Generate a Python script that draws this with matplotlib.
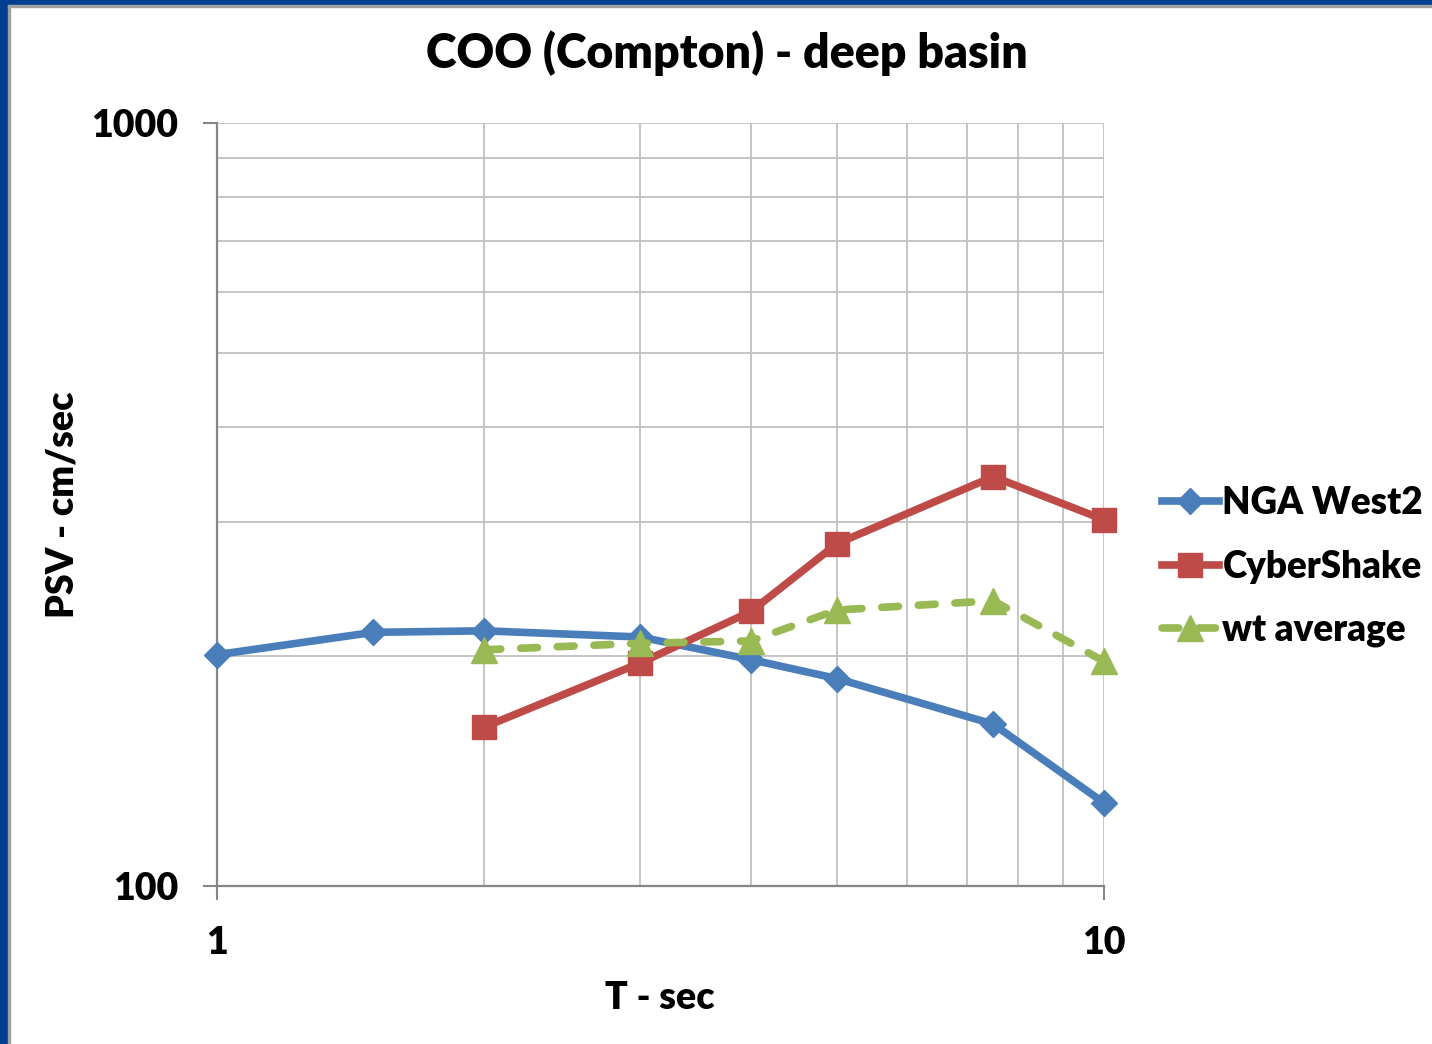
import matplotlib.pyplot as plt
from matplotlib.patches import Rectangle
from matplotlib.ticker import FixedLocator, NullFormatter, FixedFormatter

plt.rcParams['font.family'] = ['Lato', 'DejaVu Sans']
plt.rcParams['font.weight'] = 'heavy'

# periods (sec) and PSV (cm/sec)
nga_T = [1.0, 1.5, 2.0, 3.0, 4.0, 5.0, 7.5, 10.0]
nga_psv = [201, 215, 216, 212, 198, 187, 163, 128.5]

cs_T = [2.0, 3.0, 4.0, 5.0, 7.5, 10.0]
cs_psv = [161.5, 196, 229, 281, 344, 302]

wt_T = [2.0, 3.0, 4.0, 5.0, 7.5, 10.0]
wt_psv = [204, 208, 209.5, 230, 236.5, 197]

x_ticks = [1, 10]
y_ticks = [100, 1000]

BLUE = '#4A7EBB'
RED = '#BE4B48'
GREEN = '#98B954'
GRID = '#C0C0C0'
AXIS = '#868686'

W, H = 1432, 1044
fig = plt.figure(figsize=(W / 100, H / 100), dpi=100)
ax = fig.add_axes([217 / W, 1 - 886 / H, (1104 - 217) / W, (886 - 123) / H])

ax.set_xscale('log')
ax.set_yscale('log')
ax.set_xlim(1, 10)
ax.set_ylim(100, 1000)

ax.plot(nga_T, nga_psv, color=BLUE, lw=5.5, marker='D', ms=13.5,
        label='NGA West2', zorder=3, clip_on=False)
ax.plot(cs_T, cs_psv, color=RED, lw=5.5, marker='s', ms=17.5,
        label='CyberShake', zorder=4, clip_on=False)
ax.plot(wt_T, wt_psv, color=GREEN, lw=5.5, marker='^', ms=19,
        dashes=(2.2, 2.6), dash_capstyle='round',
        label='wt average', zorder=5, clip_on=False)

# ticks: majors labelled at decades, minors only carry grid lines
ax.xaxis.set_major_locator(FixedLocator(x_ticks))
ax.xaxis.set_major_formatter(FixedFormatter([str(v) for v in x_ticks]))
ax.xaxis.set_minor_locator(FixedLocator(range(2, 10)))
ax.xaxis.set_minor_formatter(NullFormatter())
ax.yaxis.set_major_locator(FixedLocator(y_ticks))
ax.yaxis.set_major_formatter(FixedFormatter([str(v) for v in y_ticks]))
ax.yaxis.set_minor_locator(FixedLocator(range(200, 1000, 100)))
ax.yaxis.set_minor_formatter(NullFormatter())

ax.grid(True, which='both', color=GRID, lw=1.3)
ax.set_axisbelow(True)
ax.tick_params(which='minor', length=0)
ax.tick_params(axis='y', which='major', length=10, width=1.5, color=AXIS,
               pad=18, labelsize=27)
ax.tick_params(axis='x', which='major', length=10, width=1.5, color=AXIS,
               pad=19, labelsize=27)

for side in ['top', 'right']:
    ax.spines[side].set_visible(False)
for side in ['left', 'bottom']:
    ax.spines[side].set_color(AXIS)
    ax.spines[side].set_linewidth(1.6)

fig.text(727 / W, 1 - 53 / H, 'COO (Compton) - deep basin', ha='center',
         va='center', fontsize=33.5)
fig.text(62 / W, 1 - 505 / H, 'PSV - cm/sec', ha='center', va='center',
         rotation=90, fontsize=27)
fig.text(660 / W, 1 - 998 / H, 'T - sec', ha='center', va='center',
         fontsize=27)

leg = fig.legend(loc='center left', bbox_to_anchor=(1147 / W, 1 - 567 / H),
                 frameon=False, fontsize=26.5, handlelength=1.55,
                 handletextpad=0.1, labelspacing=0.8, borderaxespad=0)

# slide frame along the left and top edges
fig.patches.append(Rectangle((0, 0), 8 / W, 1, transform=fig.transFigure,
                             color='#003F8F', zorder=10))
fig.patches.append(Rectangle((0, 1 - 5 / H), 1, 5 / H, transform=fig.transFigure,
                             color='#003F8F', zorder=10))
fig.patches.append(Rectangle((8 / W, 0), 2 / W, 1 - 5 / H, transform=fig.transFigure,
                             color='#A0A0A0', zorder=10))
fig.patches.append(Rectangle((8 / W, 1 - 7 / H), 1, 2 / H, transform=fig.transFigure,
                             color='#A0A0A0', zorder=10))

fig.savefig('out.png', dpi=100)
